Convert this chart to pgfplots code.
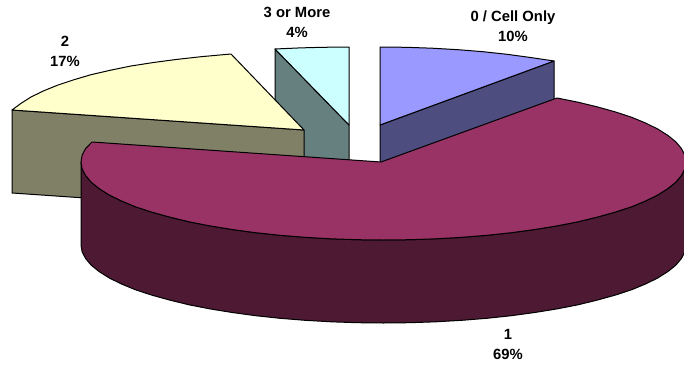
\documentclass[border=0pt]{standalone}
\usepackage{pgfplots}
\pgfplotsset{compat=1.18}
\usepackage{fontspec}
\setmainfont{Liberation Sans}
\definecolor{sliceA}{HTML}{9999FF}
\definecolor{sliceAside}{HTML}{4D4D80}
\definecolor{sliceB}{HTML}{993366}
\definecolor{sliceBside}{HTML}{4D1933}
\definecolor{sliceC}{HTML}{FFFFCC}
\definecolor{sliceCside}{HTML}{808066}
\definecolor{sliceD}{HTML}{CCFFFF}
\definecolor{sliceDside}{HTML}{668080}
\tikzset{slicelabel/.style={font=\bfseries\fontsize{14.8}{20}\selectfont, align=center, text=black, inner sep=0pt}}
\begin{document}
\begin{tikzpicture}
\useasboundingbox (0,0) rectangle (684pt,364pt);
\begin{axis}[
  at={(0,0)}, anchor=south west,
  width=684pt, height=364pt, scale only axis,
  xmin=0, xmax=684, ymin=0, ymax=364, y dir=reverse,
  axis lines=none, clip=false,
  every axis plot/.append style={draw=black, line width=1pt, line join=round, no markers},
]
% 3 or More: side wall, then top face
\addplot[fill=sliceDside] coordinates {(275,49) (349,125) (349,208) (275,132)} -- cycle;
\addplot[fill=sliceD] coordinates {(349,125) (275,49) (300,47.9) (322.8,47.3) (349,47)} -- cycle;
% 2: side wall, then top face
\addplot[fill=sliceCside] coordinates {(12,110) (304,130) (304,213) (12,193)} -- cycle;
\addplot[fill=sliceC] coordinates {(304,130) (231,54) (201,56.7) (176,59.5) (153.5,62.5) (131,66) (110.5,70.2) (91,74.7) (73.4,79.9) (57.5,85.2) (43.3,91) (31,97) (21.1,103.3) (12,110)} -- cycle;
% 0 / Cell Only: side wall, then top face
\addplot[fill=sliceAside] coordinates {(380,125) (554,61) (554,144) (380,208)} -- cycle;
\addplot[fill=sliceA] coordinates {(380,125) (380,47) (406,47.3) (432.3,48.2) (458,49.7) (483,51.7) (507,54.3) (530.5,57.5) (554,61)} -- cycle;
% 1: front wall of the large slice (its right end runs off the page)
\addplot[fill=sliceBside] coordinates {
  (686,162) (684.9,168.8) (681.4,175.5) (675.8,182.2) (667.7,188.7) (657.7,195) (645.5,201) (631.5,206.8) (615.3,212.1) (597.6,217) (578,221.8) (557,225.9) (534.8,229.5) (511.3,232.7) (487,235.3) (461.9,237.3) (436,238.8) (409.8,239.7) (383.5,240) (357.2,239.7) (331,238.8) (305.1,237.3) (280,235.3) (255.7,232.7) (232.2,229.5) (210,225.9) (189,221.8) (169.4,217) (151.7,212.1) (135.5,206.8) (121.5,201) (109.3,195) (99.3,188.7) (91.2,182.2) (85.6,175.5) (82.1,168.8) (81,162)
  (81,245) (82.1,251.8) (85.6,258.5) (91.2,265.2) (99.3,271.7) (109.3,278) (121.5,284) (135.5,289.8) (151.7,295.1) (169.4,300) (189,304.8) (210,308.9) (232.2,312.5) (255.7,315.7) (280,318.3) (305.1,320.3) (331,321.8) (357.2,322.7) (383.5,323) (409.8,322.7) (436,321.8) (461.9,320.3) (487,318.3) (511.3,315.7) (534.8,312.5) (557,308.9) (578,304.8) (597.6,300) (615.3,295.1) (631.5,289.8) (645.5,284) (657.7,278) (667.7,271.7) (675.8,265.2) (681.4,258.5) (684.9,251.8) (686,245)
} -- cycle;
% 1: top face
\addplot[fill=sliceB] coordinates {
  (381,162) (557,98) (578,102.2) (597,106.8) (615.3,111.9) (631.5,117.2) (645.5,123) (657.7,129) (667.7,135.3) (675.8,141.8) (681.4,148.5) (684.9,155.2) (686,162) (684.9,168.8) (681.4,175.5) (675.8,182.2) (667.7,188.7) (657.7,195) (645.5,201) (631.5,206.8) (615.3,212.1) (597.6,217) (578,221.8) (557,225.9) (534.8,229.5) (511.3,232.7) (487,235.3) (461.9,237.3) (436,238.8) (409.8,239.7) (383.5,240) (357.2,239.7) (331,238.8) (305.1,237.3) (280,235.3) (255.7,232.7) (232.2,229.5) (210,225.9) (189,221.8) (169.4,217) (151.7,212.1) (135.5,206.8) (121.5,201) (109.3,195) (99.3,188.7) (91.2,182.2) (85.6,175.5) (82.1,168.8) (81,162) (82.1,155.2) (85.6,148.5) (92,142)
} -- cycle;
\node[slicelabel] at (axis cs:297,22) {3 or More\\4\%};
\node[slicelabel] at (axis cs:65,51) {2\\17\%};
\node[slicelabel] at (axis cs:513,26) {0 / Cell Only\\10\%};
\node[slicelabel] at (axis cs:508,344.5) {1\\69\%};
\end{axis}
\end{tikzpicture}
\end{document}
